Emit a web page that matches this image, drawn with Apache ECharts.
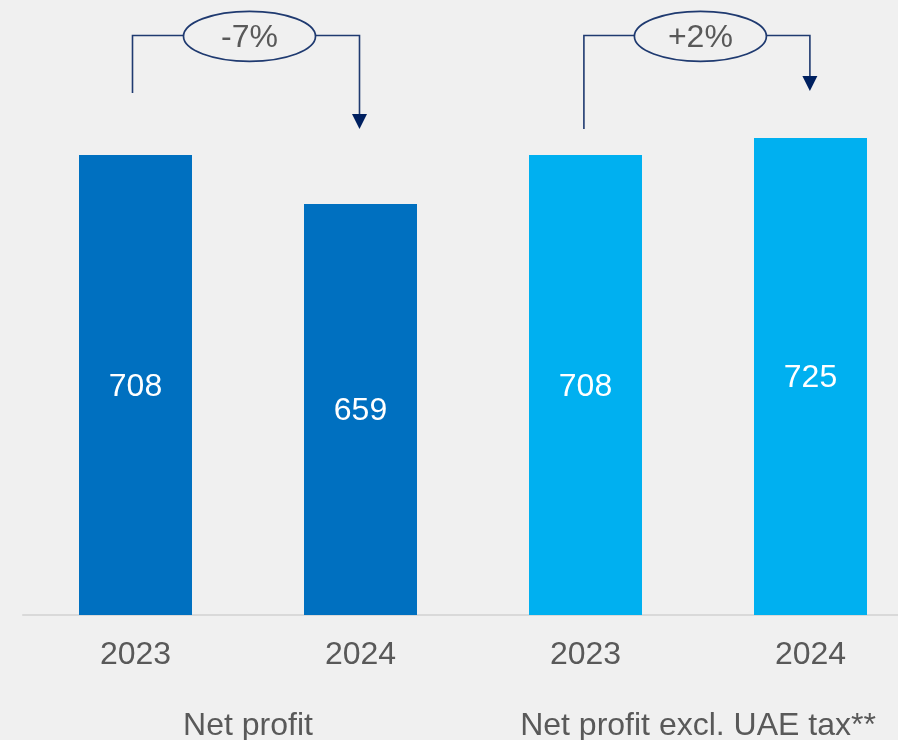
<!DOCTYPE html>
<html>
<head>
<meta charset="utf-8">
<script src="https://cdn.jsdelivr.net/npm/echarts@6/dist/echarts.min.js"></script>
<style>
  html, body { margin: 0; padding: 0; background: #f0f0f0; overflow: hidden; }
  /* the plot runs past the right edge, so the last bar sits at the border */
  #chart { width: 923px; height: 740px; }
</style>
</head>
<body>
<div id="chart"></div>
<script>
// Net profit, reported vs. excluding UAE tax
const years = ['2023', '2024', '2023', '2024'];
const groups = ['Net profit', 'Net profit excl. UAE tax**'];
const netProfit = [708, 659];
const netProfitExclTax = [708, 725];
const changeLabels = ['-7%', '+2%'];

const TEXT = '#595959';
const FONT = 'Liberation Sans, Arial, sans-serif';
const AXIS_MIN = 248;

const chart = echarts.init(document.getElementById('chart'), null, { renderer: 'canvas' });

const seriesA = years.map((_, i) => (i < netProfit.length ? netProfit[i] : '-'));
const seriesB = years.map((_, i) => (i >= netProfit.length ? netProfitExclTax[i - netProfit.length] : '-'));

const valueLabel = {
  show: true,
  position: 'inside',
  offset: [0, 2],
  color: '#ffffff',
  fontSize: 32,
  fontFamily: FONT
};

chart.setOption({
  backgroundColor: '#f0f0f0',
  animation: false,
  grid: { left: 23, right: 0, top: 115, bottom: 125, containLabel: false, outerBoundsMode: 'none' },
  xAxis: [
    {
      type: 'category',
      data: years,
      position: 'bottom',
      axisLine: { show: true, onZero: false, lineStyle: { color: '#d9d9d9', width: 2 } },
      axisTick: { show: false },
      axisLabel: { color: TEXT, fontSize: 32, fontFamily: FONT, margin: 24, interval: 0 }
    },
    {
      type: 'category',
      data: groups,
      position: 'bottom',
      offset: 71,
      axisLine: { show: false },
      axisTick: { show: false },
      axisLabel: { color: TEXT, fontSize: 32, fontFamily: FONT, margin: 24, interval: 0, hideOverlap: false }
    }
  ],
  yAxis: {
    type: 'value',
    min: AXIS_MIN,
    max: 748,
    startValue: AXIS_MIN,
    show: false,
    splitLine: { show: false }
  },
  series: [
    {
      name: groups[0],
      type: 'bar',
      stack: 'all',
      barWidth: 113,
      data: seriesA,
      itemStyle: { color: '#0070c0' },
      label: valueLabel
    },
    {
      name: groups[1],
      type: 'bar',
      stack: 'all',
      barWidth: 113,
      data: seriesB,
      itemStyle: { color: '#00b0f0' },
      label: valueLabel
    }
  ]
});

// Change brackets between the two years of each group
const allValues = netProfit.concat(netProfitExclTax);
const topOf = (i) => chart.convertToPixel({ xAxisIndex: 0, yAxisIndex: 0 }, [i, allValues[i]]);

const LINE = '#1f3a70';
const ARROW = '#002060';
const RAIL_Y = 35.5;
const bracketSpecs = [
  { from: 0, to: 1, startGap: 62, tipGap: 75, dxFrom: -3, dxTo: -1 },
  { from: 2, to: 3, startGap: 26, tipGap: 47, dxFrom: -1.6, dxTo: -0.6 }
];

const elements = [];
bracketSpecs.forEach((b, k) => {
  const p0 = topOf(b.from);
  const p1 = topOf(b.to);
  const x0 = p0[0] + b.dxFrom;
  const x1 = p1[0] + b.dxTo;
  const y0 = p0[1] - b.startGap;
  const tip = p1[1] - b.tipGap;
  const cx = (x0 + x1) / 2 + 3.5;

  elements.push({
    type: 'polyline',
    shape: { points: [[x0, y0], [x0, RAIL_Y], [x1, RAIL_Y], [x1, tip - 14]] },
    style: { stroke: LINE, lineWidth: 1.6, fill: null },
    z: 10
  });
  elements.push({
    type: 'polygon',
    shape: { points: [[x1 - 7.5, tip - 15], [x1 + 7.5, tip - 15], [x1, tip]] },
    style: { fill: ARROW },
    z: 10
  });
  elements.push({
    type: 'ellipse',
    shape: { cx: cx, cy: RAIL_Y + 0.8, rx: 66, ry: 25 },
    style: { fill: '#f0f0f0', stroke: LINE, lineWidth: 1.7 },
    z: 11
  });
  elements.push({
    type: 'text',
    x: cx,
    y: RAIL_Y + 3,
    style: {
      text: changeLabels[k],
      fill: TEXT,
      font: '32px ' + FONT,
      align: 'center',
      verticalAlign: 'middle'
    },
    z: 12
  });
});

chart.setOption({ graphic: elements });
</script>
</body>
</html>
